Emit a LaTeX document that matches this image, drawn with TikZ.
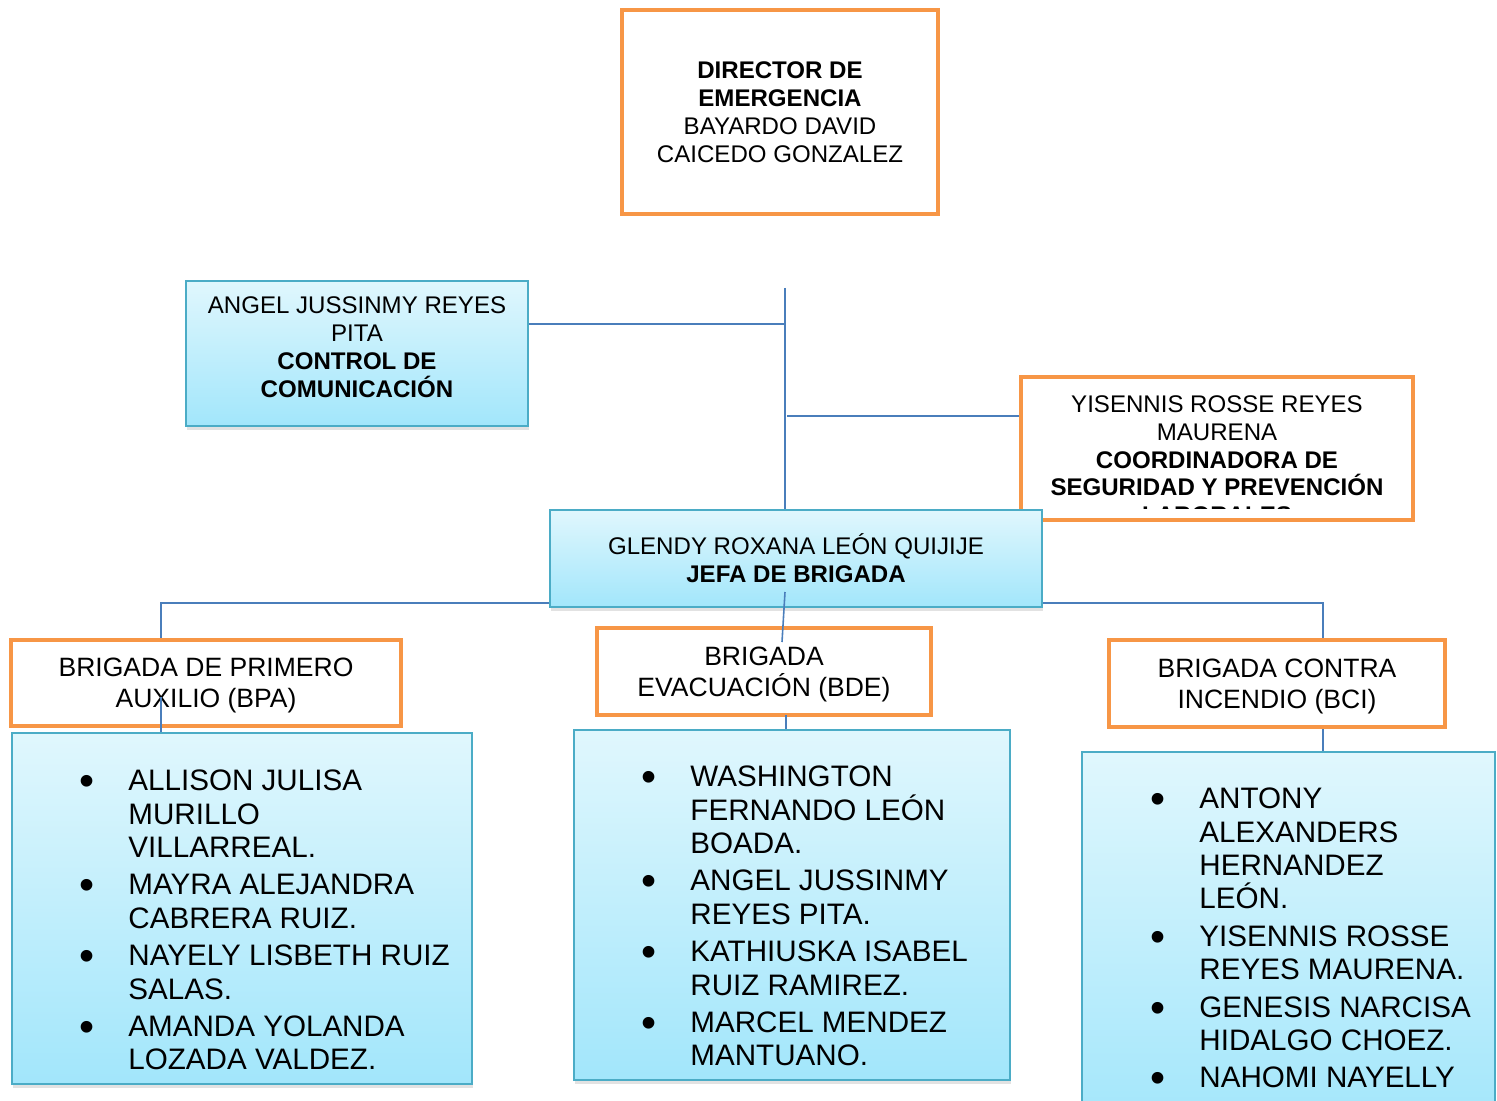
\documentclass[tikz,border=0pt]{standalone}
\usepackage{fontspec}
\usepackage{graphicx}
\setmainfont{Liberation Sans}
\usetikzlibrary{shadows}
\definecolor{orng}{HTML}{F79646}
\definecolor{bord}{HTML}{4BACC6}
\definecolor{lnkc}{HTML}{4A7EBB}
\definecolor{skytop}{HTML}{E0F7FD}
\definecolor{skybot}{HTML}{A2E6FB}
\newcommand{\tightls}{\lineskiplimit=-20pt\relax}
\tikzset{
  obox/.style={draw=orng, line width=2.3pt, fill=white, align=center, inner sep=0pt},
  bbox/.style={draw=bord, line width=1.1pt, top color=skytop, bottom color=skybot, align=center, inner sep=0pt,
    drop shadow={shadow xshift=0.8pt, shadow yshift=-2.5pt, fill=black!22}},
  lnk/.style={draw=lnkc, line width=0.9pt},
  small/.style={font=\fontsize{13.7}{15.9}\selectfont},
  head/.style={font=\fontsize{15.1}{17.6}\selectfont, text depth=0pt},
  lst/.style={font=\fontsize{16.85}{19.05}\selectfont\tightls, anchor=north west, inner sep=0pt, align=left}
}
\newcommand{\blt}{\makebox[13.7pt][c]{\raisebox{-2.8pt}{\scalebox{1.45}{\textbullet}}}\hspace{16.5pt}}
\newcommand{\ind}{\hspace*{30.2pt}}

\begin{document}
\begin{tikzpicture}[x=0.02cm, y=-0.02cm]
\clip (0,0) rectangle (1497,1101);
\fill[white] (0,0) rectangle (1497,1101);

% director
\node[obox, small, minimum width=6.32cm, minimum height=4.08cm] (dir) at (780,112)
  {\textbf{DIRECTOR DE}\\\textbf{EMERGENCIA}\\BAYARDO DAVID\\CAICEDO GONZALEZ};

% staff boxes
\node[bbox, minimum width=6.84cm, minimum height=2.9cm] (ctrl) at (357,353.5) {};
\node[small, align=center, inner sep=0pt] (ctrltxt) at (357,347)
  {ANGEL JUSSINMY REYES\\PITA\\\textbf{CONTROL DE}\\\textbf{COMUNICACIÓN}};
\node[obox, minimum width=7.84cm, minimum height=2.86cm] (coord) at (1217,448.5) {};
\begin{scope}
\clip (1023,379) rectangle (1411,508);
\node[small, align=center, anchor=north, inner sep=0pt] (coordtxt) at (1217,395)
  {YISENNIS ROSSE REYES\\MAURENA\\\textbf{COORDINADORA DE}\\\textbf{SEGURIDAD Y PREVENCIÓN}\\\textbf{LABORALES}};
\end{scope}

% trunk and branches
\coordinate (trunk) at (785,288);
\coordinate (jl) at (785,324);
\coordinate (jr) at (787,416);
\coordinate (busL) at (161,603);
\coordinate (busR) at (1323,603);
\draw[lnk] (trunk) -- (785,510);
\draw[lnk] (ctrl.east |- jl) -- (jl);
\draw[lnk] (jr) -- (coord.west |- jr);
\draw[lnk] (busL |- 0,640) -- (busL) -- (busR) -- (busR |- 0,640);

% jefa
\node[bbox, small, minimum width=9.84cm, minimum height=1.94cm] (jefa) at (796,558.5)
  {GLENDY ROXANA LEÓN QUIJIJE\\\textbf{JEFA DE BRIGADA}};

% brigades
\node[obox, head, minimum width=7.8cm, minimum height=1.72cm] (bpa) at (206,683)
  {BRIGADA DE PRIMERO\\AUXILIO (BPA)};
\node[obox, head, minimum width=6.68cm, minimum height=1.74cm] (bde) at (764,671.5)
  {BRIGADA\\EVACUACIÓN (BDE)};
\node[obox, head, minimum width=6.72cm, minimum height=1.74cm] (bci) at (1277,683.5)
  {BRIGADA CONTRA\\INCENDIO (BCI)};

% member lists
\node[bbox, minimum width=9.2cm, minimum height=7.02cm] (lst1) at (242,908.5) {};
\node[bbox, minimum width=8.72cm, minimum height=7.0cm] (lst2) at (792,905) {};
\node[bbox, minimum width=8.26cm, minimum height=7.56cm] (lst3) at (1288.5,941) {};

\node[lst] (bpanames) at (75,769.5) {
\blt ALLISON JULISA\\ \ind MURILLO\\ \ind VILLARREAL.\\[2.2pt]
\blt MAYRA ALEJANDRA\\ \ind CABRERA RUIZ.\\[2.2pt]
\blt NAYELY LISBETH RUIZ\\ \ind SALAS.\\[2.2pt]
\blt AMANDA YOLANDA\\ \ind LOZADA VALDEZ.};
\node[lst] (bdenames) at (637,765.5) {
\blt WASHINGTON\\ \ind FERNANDO LEÓN\\ \ind BOADA.\\[2.2pt]
\blt ANGEL JUSSINMY\\ \ind REYES PITA.\\[2.2pt]
\blt KATHIUSKA ISABEL\\ \ind RUIZ RAMIREZ.\\[2.2pt]
\blt MARCEL MENDEZ\\ \ind MANTUANO.};
\node[lst] (bcinames) at (1146,787.5) {
\blt ANTONY\\ \ind ALEXANDERS\\ \ind HERNANDEZ\\ \ind LEÓN.\\[2.2pt]
\blt YISENNIS ROSSE\\ \ind REYES MAURENA.\\[2.2pt]
\blt GENESIS NARCISA\\ \ind HIDALGO CHOEZ.\\[2.2pt]
\blt NAHOMI NAYELLY};

% lower links
\coordinate (jbot) at (785,592);
\coordinate (bdein) at (782,642);
\coordinate (bpain) at (161,697);
\coordinate (bdebot) at (786,715);
\draw[lnk] (jbot) -- (bdein);
\draw[lnk] (bpain) -- (bpain |- lst1.north);
\draw[lnk] (bdebot) -- (bdebot |- lst2.north);
\draw[lnk] (busR |- bci.south) -- (busR |- lst3.north);
\end{tikzpicture}
\end{document}
